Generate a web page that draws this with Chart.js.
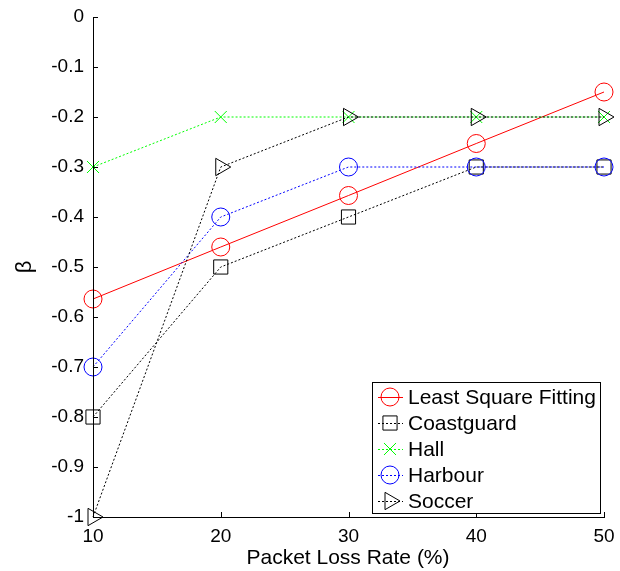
<!DOCTYPE html>
<html>
<head>
<meta charset="utf-8">
<script src="https://cdn.jsdelivr.net/npm/chart.js@4/dist/chart.umd.min.js"></script>
<style>
html,body{margin:0;padding:0;background:#fff;}
#wrap{width:620px;height:571px;position:relative;}
</style>
</head>
<body>
<div id="wrap"><canvas id="c" width="620" height="571"></canvas></div>
<script>
const xValues = [10, 20, 30, 40, 50];
const lsf = [-0.564, -0.46, -0.357, -0.253, -0.15];
const coastguard = [-0.8, -0.5, -0.4, -0.3, -0.3];
const hall = [-0.3, -0.2, -0.2, -0.2, -0.2];
const harbour = [-0.7, -0.4, -0.3, -0.3, -0.3];
const soccer = [-1, -0.3, -0.2, -0.2, -0.2];
const seriesNames = ['Least Square Fitting', 'Coastguard', 'Hall', 'Harbour', 'Soccer'];
const xTicks = [10, 20, 30, 40, 50];
const yTicks = [0, -0.1, -0.2, -0.3, -0.4, -0.5, -0.6, -0.7, -0.8, -0.9, -1];
const xTitle = 'Packet Loss Rate (%)';
const yTitle = 'β';

const FONT = '"Liberation Sans", Arial, Helvetica, sans-serif';

function pts(ys){ return xValues.map((x,i)=>({x:x,y:ys[i]})); }

const styles = [
  {color:'#ff0000', dash:[], style:'circle', r:9, rot:0},
  {color:'#000000', dash:[2,2], style:'rect', r:10, rot:0},
  {color:'#00ff00', dash:[2,2], style:'crossRot', r:8.5, rot:0},
  {color:'#0000ff', dash:[2,2], style:'circle', r:9, rot:0},
  {color:'#000000', dash:[2,2], style:'triangle', r:10, rot:90}
];
const values = [lsf, coastguard, hall, harbour, soccer];

const datasets = values.map((v,i)=>({
  label: seriesNames[i],
  data: pts(v),
  borderColor: styles[i].color,
  backgroundColor: 'rgba(0,0,0,0)',
  borderWidth: 1,
  borderDash: styles[i].dash,
  pointStyle: styles[i].style,
  pointRadius: styles[i].r,
  pointHoverRadius: styles[i].r,
  pointRotation: styles[i].rot,
  pointBorderColor: styles[i].color,
  pointBackgroundColor: 'rgba(0,0,0,0)',
  pointBorderWidth: 1,
  tension: 0,
  clip: false,
  order: 5 - i
}));

function drawMarker(ctx, style, x, y, r, rot, color){
  ctx.save();
  ctx.strokeStyle = color; ctx.lineWidth = 1; ctx.setLineDash([]);
  ctx.beginPath();
  if (style === 'circle'){
    ctx.arc(x, y, r, 0, Math.PI*2);
  } else if (style === 'rect'){
    const s = Math.SQRT1_2 * r;
    ctx.rect(x - s, y - s, 2*s, 2*s);
  } else if (style === 'crossRot'){
    const d = Math.SQRT1_2 * r;
    ctx.moveTo(x-d,y-d); ctx.lineTo(x+d,y+d);
    ctx.moveTo(x-d,y+d); ctx.lineTo(x+d,y-d);
  } else if (style === 'triangle'){
    let a = (rot||0) * Math.PI/180;
    for (let k=0;k<3;k++){
      const px = x + Math.sin(a)*r, py = y - Math.cos(a)*r;
      if (k===0) ctx.moveTo(px,py); else ctx.lineTo(px,py);
      a += 2*Math.PI/3;
    }
    ctx.closePath();
  }
  ctx.stroke();
  ctx.restore();
}

const axesPlugin = {
  id: 'axesPlugin',
  afterDatasetsDraw(chart){
    const ctx = chart.ctx;
    const xs = chart.scales.x, ys = chart.scales.y;
    const L = xs.getPixelForValue(10), R = xs.getPixelForValue(50);
    const T = ys.getPixelForValue(0), B = ys.getPixelForValue(-1);
    ctx.save();
    ctx.strokeStyle = '#000'; ctx.lineWidth = 1; ctx.setLineDash([]);
    ctx.beginPath();
    ctx.moveTo(Math.round(L)+0.5, T); ctx.lineTo(Math.round(L)+0.5, B+0.5);
    ctx.moveTo(L, Math.round(B)+0.5); ctx.lineTo(R+1, Math.round(B)+0.5);
    xTicks.forEach(v=>{ const px = Math.round(xs.getPixelForValue(v))+0.5; ctx.moveTo(px, B); ctx.lineTo(px, B-5); });
    yTicks.forEach(v=>{ const py = Math.round(ys.getPixelForValue(v))+0.5; ctx.moveTo(L, py); ctx.lineTo(L+5, py); });
    ctx.stroke();

    // titles
    ctx.fillStyle = '#000';
    ctx.font = '21px ' + FONT;
    ctx.textAlign = 'center'; ctx.textBaseline = 'alphabetic';
    ctx.fillText(xTitle, 348, 564);
    ctx.save();
    ctx.translate(31, (T+B)/2);
    ctx.rotate(-Math.PI/2);
    ctx.font = '22px ' + FONT;
    ctx.textBaseline = 'alphabetic';
    ctx.fillText(yTitle, 0, 0);
    ctx.restore();

    // legend
    const bx = 372.5, by = 382.5, bw = 228, bh = 131;
    ctx.fillStyle = '#fff';
    ctx.fillRect(bx, by, bw, bh);
    ctx.strokeStyle = '#000';
    ctx.strokeRect(bx, by, bw, bh);
    const rowsY = [397, 423, 449, 475, 501];
    ctx.font = '21px ' + FONT;
    ctx.textAlign = 'left'; ctx.textBaseline = 'middle';
    seriesNames.forEach((name,i)=>{
      const y = rowsY[i], st = styles[i];
      ctx.save();
      ctx.strokeStyle = st.color; ctx.lineWidth = 1; ctx.setLineDash(st.dash);
      ctx.beginPath(); ctx.moveTo(378, y+0.5); ctx.lineTo(403, y+0.5); ctx.stroke();
      ctx.restore();
      drawMarker(ctx, st.style, 390, y, st.r, st.rot, st.color);
      ctx.fillStyle = '#000';
      ctx.fillText(name, 408, y+1);
    });
    ctx.restore();
  }
};

function noPad(s){ s.paddingTop = 0; s.paddingBottom = 0; s.paddingLeft = 0; s.paddingRight = 0; }

new Chart(document.getElementById('c'), {
  type: 'line',
  data: { datasets: datasets },
  options: {
    responsive: false,
    animation: false,
    events: [],
    layout: { padding: { top: 17, right: 16, left: 0, bottom: 0 } },
    plugins: { legend: { display: false }, tooltip: { enabled: false } },
    scales: {
      x: {
        type: 'linear', min: 10, max: 50,
        afterFit(s){ s.height = 54; noPad(s); },
        afterBuildTicks(s){ s.ticks = xTicks.map(v=>({value:v})); },
        grid: { display: false, drawTicks: false },
        border: { display: false },
        ticks: { color: '#000', font: { family: FONT, size: 19 }, padding: 8, maxRotation: 0, autoSkip: false }
      },
      y: {
        type: 'linear', min: -1, max: 0,
        afterFit(s){ s.width = 93; noPad(s); },
        afterBuildTicks(s){ s.ticks = yTicks.map(v=>({value:v})); },
        grid: { display: false, drawTicks: false },
        border: { display: false },
        ticks: { color: '#000', font: { family: FONT, size: 19 }, padding: 9, autoSkip: false,
          callback: v => String(Number(v.toFixed(1))) }
      }
    }
  },
  plugins: [axesPlugin]
});
</script>
</body>
</html>
